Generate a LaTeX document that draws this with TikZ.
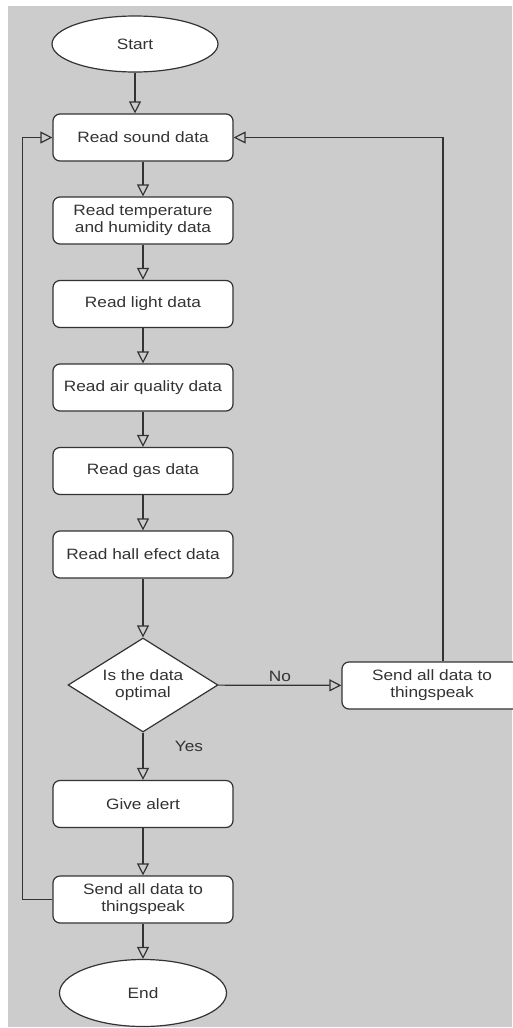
\documentclass[tikz,border=0pt]{standalone}
\usepackage{fontspec}
\setmainfont{Liberation Sans}[FakeStretch=1.15]
\usetikzlibrary{shapes.geometric, arrows.meta, positioning}
\definecolor{bggrey}{HTML}{CCCCCC}
\definecolor{linegrey}{HTML}{333333}
\tikzset{>={Triangle[open,length=12pt,width=12pt]},
  every node/.style={text=linegrey, font=\fontsize{15}{17}\selectfont},
  process/.style={draw=linegrey, fill=white, rounded corners=7pt, line width=1.2pt,
    minimum width=180pt, minimum height=47pt, align=center, inner sep=0pt},
  terminal/.style={draw=linegrey, fill=white, ellipse, line width=1.2pt,
    minimum width=166pt, minimum height=56pt, inner sep=0pt},
  decision/.style={draw=linegrey, fill=white, diamond, aspect=1.6, line width=1.2pt,
    minimum width=150pt, minimum height=94pt, inner sep=0pt, align=center},
  flow/.style={->, draw=linegrey, line width=1.2pt}
}

\begin{document}
\begin{tikzpicture}[x=1pt, y=-1pt]
\useasboundingbox (0,0) rectangle (512,1028);
\fill[bggrey] (8,6) rectangle (512,1027);

\node[terminal] (start) at (135,44) {Start};
\node[process] (sound) at (143,137.5) {Read sound data};
\node[process] (temp) at (143,220.5) {Read temperature\\and humidity data};
\node[process] (light) at (143,304) {Read light data};
\node[process] (air) at (143,387.5) {Read air quality data};
\node[process] (gas) at (143,471) {Read gas data};
\node[process] (hall) at (143,554.5) {Read hall efect data};
\node[decision] (check) at (143,685) {Is the data\\optimal};
\node[process] (upload) at (432,685.5) {Send all data to\\thingspeak};
\node[process] (alert) at (143,804) {Give alert};
\node[process] (send) at (143,899.5) {Send all data to\\thingspeak};
\node[terminal, minimum width=167pt, minimum height=67pt] (finish) at (143,993) {End};

\draw[flow] (start) -- (start |- sound.north);
\draw[flow] (sound) -- (temp);
\draw[flow] (temp) -- (light);
\draw[flow] (light) -- (air);
\draw[flow] (air) -- (gas);
\draw[flow] (gas) -- (hall);
\draw[flow] (hall) -- (check);
\draw[flow] (check) -- node[above=0pt]{No} (upload);
\draw[flow] (check) -- node[pos=0.3, right=28pt]{Yes} (alert);
\draw[flow] (alert) -- (send);
\draw[flow] (send) -- (finish);

% loops back to the first reading
\coordinate (uptop) at ([xshift=11pt]upload.north);
\draw[flow] (uptop) |- (sound.east);
\draw[flow] (send.west) -- ++(-30,0) |- (sound.west);
\end{tikzpicture}
\end{document}
